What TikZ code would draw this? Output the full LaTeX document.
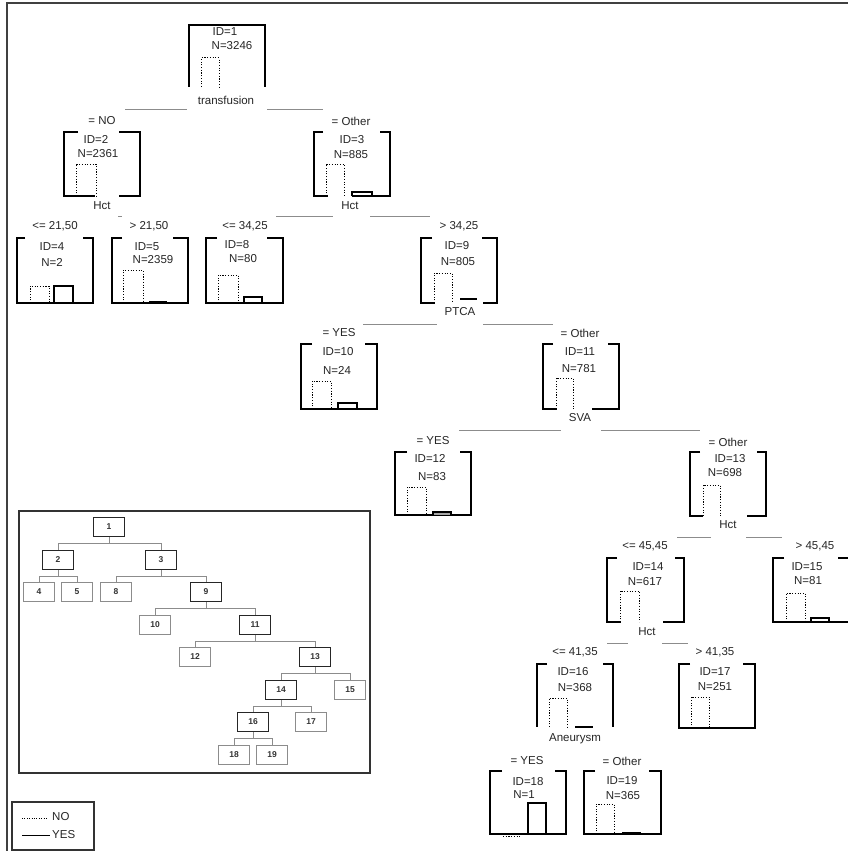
\documentclass[tikz,border=0pt]{standalone}
\usepackage{fontspec}
\setmainfont{Liberation Sans}
\tikzset{
  bx/.style={line width=1.1pt, black},
  nobar/.style={line width=1pt, black, dash pattern=on 1.1pt off 1.6pt},
  yesbar/.style={line width=1.1pt, black},
  spl/.style={line width=1pt, black!45},
  frame/.style={line width=1.4pt, black!75},
  txt/.style={font=\fontsize{11.5}{12}\selectfont, inner sep=0pt, text=black!85},
  inint/.style={draw=black!85, line width=1.2pt, minimum width=31pt, minimum height=19pt, inner sep=0pt, font=\fontsize{8.5}{9}\selectfont\bfseries, text=black!80},
  inleaf/.style={draw=black!45, line width=1pt, minimum width=31pt, minimum height=19pt, inner sep=0pt, font=\fontsize{8.5}{9}\selectfont\bfseries, text=black!80},
  icon/.style={draw=black!45, line width=1pt},
}
% L R T B tl tr bl br
\newcommand\tbox[8]{%
  \draw[bx] (#5,#3) -- (#1,#3) -- (#1,#4) -- (#7,#4);
  \draw[bx] (#6,#3) -- (#2,#3) -- (#2,#4) -- (#8,#4);}
% x1 x2 top bottom
\newcommand\nob[4]{\draw[nobar] (#1,#4) -- (#1,#3) -- (#2,#3) -- (#2,#4);}
\newcommand\yesb[4]{\draw[yesbar] (#1,#4) -- (#1,#3) -- (#2,#3) -- (#2,#4);}
\begin{document}
\begin{tikzpicture}[x=1pt,y=-1pt]
\useasboundingbox (0,0) rectangle (848,851);
\fill[white] (0,0) rectangle (848,851);
% outer frame
\draw[frame] (7,851) -- (7,3) -- (849,3);

% ---------- node 1 ----------
\tbox{189}{265}{25}{87}{227}{227}{189}{265}
\nob{201}{219}{58}{87}
\node[txt] (id1) at (225,32) {ID=1};
\node[txt] (n1) at (232,46) {N=3246};
\node[txt] (v1) at (226,100) {transfusion};
\draw[spl] (125,109) -- (187,109);
\draw[spl] (267,109) -- (323,109);

% ---------- node 2 ----------
\node[txt] (c2) at (102,121) {= NO};
\tbox{64}{140}{132}{196}{78}{119}{95}{119}
\nob{76}{96}{164}{196}
\node[txt] (id2) at (96,139) {ID=2};
\node[txt] (n2) at (98,154) {N=2361};
\node[txt] (v2) at (102,206) {Hct};
\draw[spl] (118,216) -- (122,216);

% ---------- node 3 ----------
\node[txt] (c3) at (351,121) {= Other};
\tbox{314}{390}{132}{196}{323}{380}{328}{352}
\nob{326}{344}{164}{196}
\yesb{352}{372}{192}{196}
\node[txt] (id3) at (352,140) {ID=3};
\node[txt] (n3) at (351,155) {N=885};
\node[txt] (v3) at (350,206) {Hct};
\draw[spl] (276,216) -- (333,216);
\draw[spl] (370,216) -- (430,216);

% ---------- node 4 ----------
\node[txt] (c4) at (55,226) {<= 21,50};
\tbox{17}{93}{238}{303}{25}{83}{55}{55}
\nob{30}{49}{286}{303}
\yesb{54}{73}{286}{303}
\node[txt] (id4) at (52,247) {ID=4};
\node[txt] (n4) at (52,262) {N=2};

% ---------- node 5 ----------
\node[txt] (c5) at (149,226) {> 21,50};
\tbox{112}{188}{238}{303}{122}{173}{150}{150}
\nob{123}{143}{270}{303}
\draw[line width=2pt] (149,302) -- (167,302);
\node[txt] (id5) at (147,247) {ID=5};
\node[txt] (n5) at (153,260) {N=2359};

% ---------- node 8 ----------
\node[txt] (c8) at (245,226) {<= 34,25};
\tbox{206}{283}{238}{303}{217}{267}{245}{245}
\nob{218}{238}{275}{303}
\yesb{244}{262}{297}{303}
\node[txt] (id8) at (237,245) {ID=8};
\node[txt] (n8) at (243,259) {N=80};

% ---------- node 9 ----------
\node[txt] (c9) at (459,226) {> 34,25};
\tbox{421}{497}{238}{303}{432}{482}{435}{483}
\nob{434}{452}{273}{303}
\draw[yesbar] (460,299) -- (477,299);
\node[txt] (id9) at (457,246) {ID=9};
\node[txt] (n9) at (458,262) {N=805};
\node[txt] (v9) at (460,312) {PTCA};
\draw[spl] (363,324) -- (437,324);
\draw[spl] (483,324) -- (553,324);

% ---------- node 10 ----------
\node[txt] (c10) at (339,333) {= YES};
\tbox{301}{377}{344}{409}{312}{365}{339}{339}
\nob{312}{331}{381}{409}
\yesb{338}{357}{403}{409}
\node[txt] (id10) at (338,352) {ID=10};
\node[txt] (n10) at (337,370) {N=24};

% ---------- node 11 ----------
\node[txt] (c11) at (580,333) {= Other};
\tbox{543}{619}{344}{409}{553}{608}{557}{592}
\nob{556}{573}{378}{409}
\node[txt] (id11) at (580,352) {ID=11};
\node[txt] (n11) at (579,369) {N=781};
\node[txt] (v11) at (580,418) {SVA};
\draw[spl] (459,430) -- (561,430);
\draw[spl] (601,430) -- (700,430);

% ---------- node 12 ----------
\node[txt] (c12) at (433,441) {= YES};
\tbox{395}{471}{452}{515}{407}{460}{433}{433}
\nob{407}{426}{487}{515}
\draw[yesbar, fill=black!35] (433,515) -- (433,512) -- (451,512) -- (451,515);
\node[txt] (id12) at (430,458) {ID=12};
\node[txt] (n12) at (432,477) {N=83};

% ---------- node 13 ----------
\node[txt] (c13) at (728,442) {= Other};
\tbox{690}{766}{452}{516}{700}{757}{703}{747}
\nob{703}{720}{485}{516}
\node[txt] (id13) at (730,459) {ID=13};
\node[txt] (n13) at (725,473) {N=698};
\node[txt] (v13) at (728,525) {Hct};
\draw[spl] (677,537) -- (711,537);
\draw[spl] (746,537) -- (782,537);

% ---------- node 14 ----------
\node[txt] (c14) at (645,546) {<= 45,45};
\tbox{607}{684}{558}{622}{617}{675}{621}{663}
\nob{620}{639}{591}{622}
\node[txt] (id14) at (648,567) {ID=14};
\node[txt] (n14) at (645,582) {N=617};
\node[txt] (v14) at (647,632) {Hct};
\draw[spl] (607,643) -- (628,643);
\draw[spl] (662,643) -- (688,643);

% ---------- node 15 ----------
\node[txt] (c15) at (815,546) {> 45,45};
\tbox{773}{849}{558}{622}{784}{838}{811}{811}
\nob{786}{805}{593}{622}
\yesb{811}{829}{618}{622}
\node[txt] (id15) at (807,567) {ID=15};
\node[txt] (n15) at (808,581) {N=81};

% ---------- node 16 ----------
\node[txt] (c16) at (575,652) {<= 41,35};
\tbox{537}{613}{664}{727}{547}{603}{537}{613}
\nob{549}{567}{698}{727}
\draw[yesbar] (575,727) -- (593,727);
\node[txt] (id16) at (573,672) {ID=16};
\node[txt] (n16) at (575,688) {N=368};
\node[txt] (v16) at (575,739) {Aneurysm};

% ---------- node 17 ----------
\node[txt] (c17) at (715,652) {> 41,35};
\tbox{679}{755}{664}{728}{690}{743}{715}{715}
\nob{691}{709}{697}{728}
\node[txt] (id17) at (715,672) {ID=17};
\node[txt] (n17) at (715,687) {N=251};

% ---------- node 18 ----------
\node[txt] (c18) at (527,761) {= YES};
\tbox{490}{566}{771}{834}{502}{555}{528}{528}
\yesb{528}{546}{803}{834}
\draw[nobar] (503,836) -- (520,836);
\node[txt] (id18) at (528,782) {ID=18};
\node[txt] (n18) at (524,795) {N=1};

% ---------- node 19 ----------
\node[txt] (c19) at (622,761) {= Other};
\tbox{584}{661}{771}{834}{595}{649}{622}{622}
\nob{596}{614}{804}{834}
\draw[line width=2pt] (622,833) -- (641,833);
\node[txt] (id19) at (622,781) {ID=19};
\node[txt] (n19) at (623,796) {N=365};

% ---------- inset overview ----------
\draw[line width=1.1pt, black!80] (19,511) rectangle (370,773);
\node[inint]  (i1)  at (109,527) {1};
\node[inint]  (i2)  at (58,560)  {2};
\node[inint]  (i3)  at (161,560) {3};
\node[inleaf] (i4)  at (39,592)  {4};
\node[inleaf] (i5)  at (77,592)  {5};
\node[inleaf] (i8)  at (116,592) {8};
\node[inint]  (i9)  at (206,592) {9};
\node[inleaf] (i10) at (155,625) {10};
\node[inint]  (i11) at (255,625) {11};
\node[inleaf] (i12) at (195,657) {12};
\node[inint]  (i13) at (315,657) {13};
\node[inint]  (i14) at (281,690) {14};
\node[inleaf] (i15) at (350,690) {15};
\node[inint]  (i16) at (253,722) {16};
\node[inleaf] (i17) at (311,722) {17};
\node[inleaf] (i18) at (234,755) {18};
\node[inleaf] (i19) at (272,755) {19};
\foreach \p/\a/\b in {i1/i2/i3, i2/i4/i5, i3/i8/i9, i9/i10/i11, i11/i12/i13, i13/i14/i15, i14/i16/i17, i16/i18/i19}{
  \draw[icon] (\p.south) -- ++(0,6.5) -| (\a.north);
  \draw[icon] (\p.south) ++(0,6.5) -| (\b.north);
}

% ---------- legend ----------
\draw[line width=1.1pt, black!80] (12,802) rectangle (94,850);
\coordinate (lno1) at (22,818);
\coordinate (lno2) at (48,818);
\coordinate (lyes1) at (22,835);
\coordinate (lyes2) at (50,835);
\draw[line width=0.8pt, dash pattern=on 0.8pt off 1.6pt] (lno1) -- (lno2);
\draw[line width=1pt] (lyes1) -- (lyes2);
\node[txt, anchor=west] (lgno) at (52,817) {NO};
\node[txt, anchor=west] (lgyes) at (52,835) {YES};
\end{tikzpicture}
\end{document}
